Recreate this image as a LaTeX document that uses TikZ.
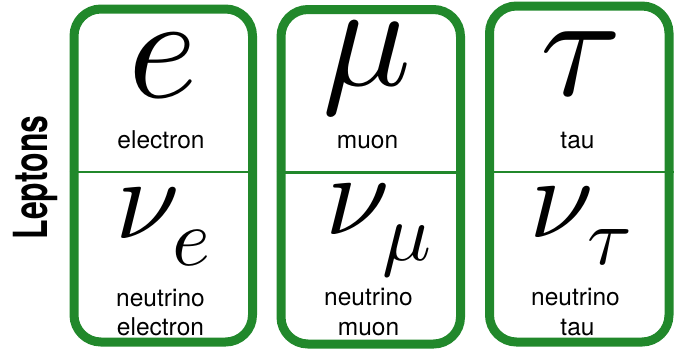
\documentclass[tikz,border=0pt]{standalone}
\usepackage{fontspec}
\setmainfont{TeX Gyre Heros}
\DeclareFontFamily{OML}{bigcmm}{\skewchar\font'177}
\DeclareFontShape{OML}{bigcmm}{m}{it}{<->cmmi10}{}
\DeclareSymbolFont{letters}{OML}{bigcmm}{m}{it}
\definecolor{cellgreen}{RGB}{33,136,43}
\begin{document}
\begin{tikzpicture}[
      x=1pt, y=-1pt,
      inner sep=0pt,
      cell/.style={draw=cellgreen, line width=9pt, rounded corners=27pt, minimum width=179.5pt},
      divider/.style={draw=cellgreen, line width=2.5pt},
      sym/.style={font=\fontsize{148}{148}\selectfont},
      nusym/.style={font=\fontsize{116}{116}\selectfont},
      lbl/.style={anchor=base, font=\fontsize{24.5}{24.5}\selectfont}
    ]
    \useasboundingbox (0,0) rectangle (681,349);
    \node (title) [rotate=90, font=\fontsize{47}{47}\selectfont\bfseries] at (35,177.5) {\scalebox{0.68}[1]{Leptons}};
    \node (c1) [cell, minimum width=178.5pt, minimum height=333pt] at (163.25,175.5) {};
    \node (c2) [cell, minimum height=334.5pt] at (370.75,176.75) {};
    \node (c3) [cell, minimum height=336pt] at (579.25,174) {};
    \draw[divider] (c1.west |- 0,172) -- (c1.east |- 0,172);
    \draw[divider] (c2.west |- 0,172.5) -- (c2.east |- 0,172.5);
    \draw[divider] (c3.west |- 0,172) -- (c3.east |- 0,172);
    \node (1) [sym] at (163,66) {$e$};
    \node (2) [sym] at (367.5,68) {$\mu$};
    \node (3) [sym] at (581,64) {$\tau$};
    \node (1n) [nusym] at (163,227) {$\nu_e$};
    \node (2n) [nusym] at (378.5,230.5) {$\nu_\mu$};
    \node (3n) [nusym] at (581,226) {$\nu_\tau$};
    \node (1l) [lbl] at (161,148) {electron};
    \node (2l) [lbl] at (367.5,148) {muon};
    \node (3l) [lbl] at (577.5,148) {tau};
    \node (1nl) [lbl] at (160.5,306) {neutrino};
    \node (1nl2) [lbl] at (160.5,335) {electron};
    \node (2nl) [lbl] at (368.5,305) {neutrino};
    \node (2nl2) [lbl] at (368.5,335) {muon};
    \node (3nl) [lbl] at (575.5,305) {neutrino};
    \node (3nl2) [lbl] at (577.5,335) {tau};
  \end{tikzpicture}
\end{document}
